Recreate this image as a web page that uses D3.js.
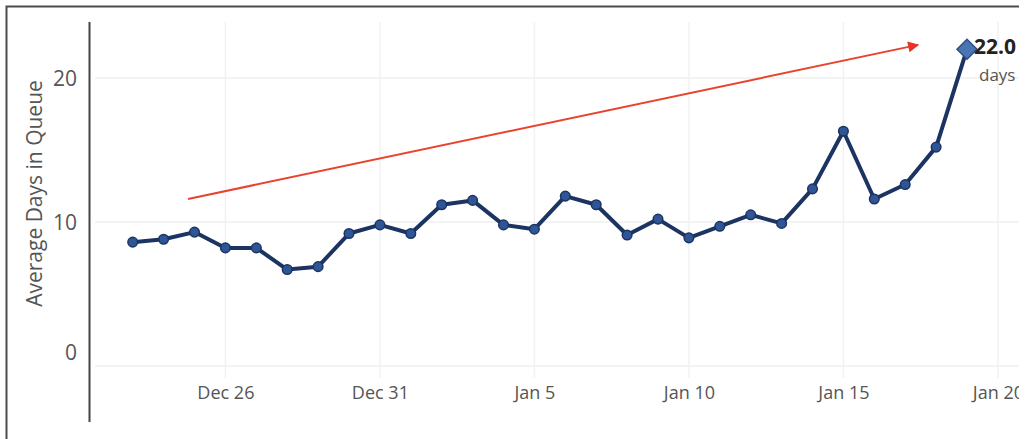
<!DOCTYPE html>
<html>
<head>
<meta charset="utf-8">
<script src="https://cdn.jsdelivr.net/npm/d3@7"></script>
<style>
  html, body { margin: 0; padding: 0; background: #fff; }
  svg { display: block; }
</style>
</head>
<body>
<svg id="chart" width="1034" height="439"></svg>
<script>
// Daily average days in queue, Dec 23 through Jan 19
const dates = [
  "2019-12-23","2019-12-24","2019-12-25","2019-12-26","2019-12-27","2019-12-28","2019-12-29",
  "2019-12-30","2019-12-31","2020-01-01","2020-01-02","2020-01-03","2020-01-04","2020-01-05",
  "2020-01-06","2020-01-07","2020-01-08","2020-01-09","2020-01-10","2020-01-11","2020-01-12",
  "2020-01-13","2020-01-14","2020-01-15","2020-01-16","2020-01-17","2020-01-18","2020-01-19"
];
const avgDays = [
  8.6, 8.8, 9.3, 8.2, 8.2, 6.7, 6.9,
  9.2, 9.8, 9.2, 11.2, 11.5, 9.8, 9.5,
  11.8, 11.2, 9.1, 10.2, 8.9, 9.7, 10.5,
  9.9, 12.3, 16.3, 11.6, 12.6, 15.2, 22.0
];
const yTicks = [0, 10, 20];
const xTickDates = ["2019-12-26","2019-12-31","2020-01-05","2020-01-10","2020-01-15","2020-01-20"];
const yTitle = "Average Days in Queue";
const lastLabelUnit = "days";
// Trend arrow drawn from / to these (date, value) points
const arrowFrom = ["2019-12-24T19:00", 11.6];
const arrowTo = ["2020-01-17T10:00", 22.3];

const parse = d3.isoParse;
const data = dates.map((d, i) => ({ date: parse(d), value: avgDays[i] }));

const svg = d3.select("#chart");
const W = 1034, H = 439;

const x = d3.scaleTime()
  .domain([parse("2019-12-22"), parse("2020-01-21")])
  .range([101.8, 1028.8]);
const y = d3.scaleLinear().domain([0, 20]).range([366, 78]);

const font = "'Open Sans', 'DejaVu Sans', sans-serif";

// clip region for the chart content
const defs = svg.append("defs");
defs.append("clipPath").attr("id", "frame")
  .append("rect").attr("x", 0).attr("y", 0).attr("width", 1019).attr("height", H);

const g = svg.append("g").attr("clip-path", "url(#frame)");

// outer frame
g.append("path")
  .attr("d", `M6.5,${H} L6.5,6.5 L${W},6.5`)
  .attr("fill", "none").attr("stroke", "#4d4d4d").attr("stroke-width", 2);

// vertical gridlines at date ticks
g.append("g").selectAll("line").data(xTickDates).join("line")
  .attr("x1", d => x(parse(d))).attr("x2", d => x(parse(d)))
  .attr("y1", 22).attr("y2", 378)
  .attr("stroke", "#f2f2f2").attr("stroke-width", 1.5);

// horizontal gridlines
g.append("g").selectAll("line").data(yTicks).join("line")
  .attr("x1", 95).attr("x2", 1019)
  .attr("y1", d => y(d)).attr("y2", d => y(d))
  .attr("stroke", "#efefef").attr("stroke-width", 1.5);

// y axis
const yAxis = g.append("g").attr("transform", "translate(89,0)")
  .call(d3.axisLeft(y).tickValues(yTicks).tickSize(0).tickPadding(12).tickFormat(d3.format("d")));
yAxis.select(".domain").remove();
yAxis.selectAll("text")
  .attr("font-family", font).attr("font-size", 21).attr("fill", "#555")
  .attr("dy", d => d === 0 ? "-0.3em" : "0.38em");
g.append("line")
  .attr("x1", 89.5).attr("x2", 89.5).attr("y1", 22).attr("y2", 422)
  .attr("stroke", "#444").attr("stroke-width", 2);

g.append("text")
  .attr("transform", `translate(36,${(75 + 312) / 2}) rotate(-90)`)
  .attr("text-anchor", "middle").attr("dominant-baseline", "middle")
  .attr("font-family", font).attr("font-size", 21).attr("fill", "#555")
  .text(yTitle);

// x axis labels
const xAxis = g.append("g").attr("transform", "translate(0,378)")
  .call(d3.axisBottom(x).tickValues(xTickDates.map(parse)).tickSize(0).tickPadding(8)
    .tickFormat(d3.timeFormat("%b %-d")));
xAxis.select(".domain").remove();
xAxis.selectAll("text")
  .attr("font-family", font).attr("font-size", 18).attr("fill", "#555");

// trend arrow
defs.append("marker").attr("id", "arrowhead")
  .attr("viewBox", "0 0 10 10").attr("refX", 9).attr("refY", 5)
  .attr("markerWidth", 14).attr("markerHeight", 11).attr("markerUnits", "userSpaceOnUse")
  .attr("orient", "auto")
  .append("path").attr("d", "M0,0 L10,5 L0,10 Z").attr("fill", "#e8322a");
g.append("line")
  .attr("x1", x(parse(arrowFrom[0]))).attr("y1", y(arrowFrom[1]))
  .attr("x2", x(parse(arrowTo[0]))).attr("y2", y(arrowTo[1]))
  .attr("stroke", "#e8432f").attr("stroke-width", 2)
  .attr("marker-end", "url(#arrowhead)");

// series line
const line = d3.line().x(d => x(d.date)).y(d => y(d.value));
g.append("path").datum(data)
  .attr("d", line)
  .attr("fill", "none").attr("stroke", "#1c3461").attr("stroke-width", 4)
  .attr("stroke-linejoin", "round");

// point markers (last point drawn as a diamond)
g.append("g").selectAll("circle").data(data.slice(0, -1)).join("circle")
  .attr("cx", d => x(d.date)).attr("cy", d => y(d.value)).attr("r", 4.8)
  .attr("fill", "#2e5596").attr("stroke", "#1c3461").attr("stroke-width", 1.5);

const last = data[data.length - 1];
g.append("path")
  .attr("d", d3.symbol().type(d3.symbolSquare).size(200)())
  .attr("transform", `translate(${x(last.date)},${y(last.value)}) rotate(45)`)
  .attr("fill", "#4a74b2").attr("stroke", "#2d4f88").attr("stroke-width", 1.5);

g.append("text")
  .attr("x", x(last.date) + 7).attr("y", y(last.value) + 5)
  .attr("font-family", font).attr("font-size", 21).attr("font-weight", "bold").attr("fill", "#222")
  .text(d3.format(".1f")(last.value));
g.append("text")
  .attr("x", x(last.date) + 12).attr("y", y(last.value) + 32)
  .attr("font-family", font).attr("font-size", 17).attr("fill", "#555")
  .text(lastLabelUnit);
</script>
</body>
</html>
